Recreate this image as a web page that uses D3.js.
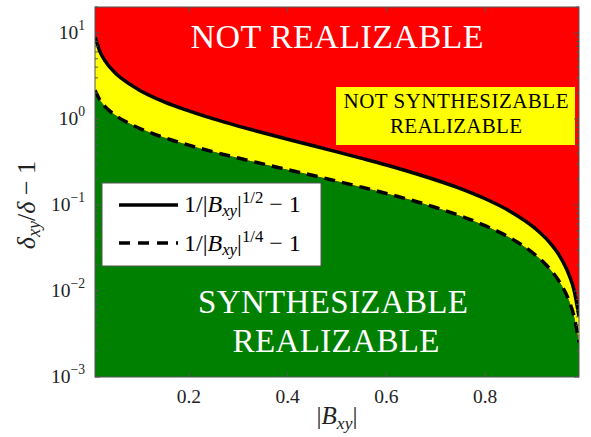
<!DOCTYPE html>
<html>
<head>
<meta charset="utf-8">
<script src="https://cdn.jsdelivr.net/npm/d3@7"></script>
<style>
  body { margin: 0; background: #fff; }
</style>
</head>
<body>
<svg id="chart" width="591" height="437"></svg>
<script>
// values
const bxy    = [0.01, 0.02, 0.03, 0.05, 0.07, 0.1, 0.15, 0.2, 0.25, 0.3, 0.35, 0.4, 0.45, 0.5,
                0.55, 0.6, 0.65, 0.7, 0.75, 0.8, 0.85, 0.9, 0.93, 0.95, 0.97, 0.98, 0.99];
const solid  = [9, 6.07, 4.77, 3.47, 2.78, 2.16, 1.58, 1.24, 1.0, 0.826, 0.69, 0.581, 0.491, 0.414,
                0.348, 0.291, 0.24, 0.195, 0.155, 0.118, 0.0847, 0.0541, 0.037, 0.026, 0.0153, 0.0102, 0.00504];
const dashed = [2.16, 1.66, 1.40, 1.115, 0.944, 0.778, 0.607, 0.495, 0.414, 0.351, 0.30, 0.257, 0.221, 0.189,
                0.161, 0.136, 0.114, 0.0933, 0.0746, 0.0574, 0.0415, 0.0267, 0.0183, 0.0129, 0.00765, 0.00506, 0.00252];
const xTicks = [0.2, 0.4, 0.6, 0.8];
const yTicks = [1e-3, 1e-2, 1e-1, 1, 10];
const yExp   = ["\u22123", "\u22122", "\u22121", "0", "1"];

const FONT = "Liberation Serif";
const svg = d3.select("#chart");
const L = 95, R = 579, T = 7, B = 377;

const x = d3.scaleLinear().domain([0.01, 0.99]).range([L, R]);
const y = d3.scaleLog().domain([1e-3, 20]).range([B, T]);

svg.append("clipPath").attr("id", "clip")
  .append("rect").attr("x", L).attr("y", T).attr("width", R - L).attr("height", B - T);

const plot = svg.append("g").attr("clip-path", "url(#clip)");

// regions
plot.append("rect").attr("x", L).attr("y", T).attr("width", R - L).attr("height", B - T).attr("fill", "#ff0000");

const pts = bxy.map((b, i) => ({ b: b, s: solid[i], d: dashed[i] }));
const curve = d3.curveMonotoneX;

plot.append("path").datum(pts)
  .attr("fill", "#ffff00")
  .attr("d", d3.area().curve(curve).x(d => x(d.b)).y0(d => y(d.d)).y1(d => y(d.s)));

// green under dashed curve
plot.append("path").datum(pts)
  .attr("fill", "#008000")
  .attr("d", d3.area().curve(curve).x(d => x(d.b)).y0(B).y1(d => y(d.d)));

plot.append("path").datum(pts)
  .attr("fill", "none").attr("stroke", "#000").attr("stroke-width", 3.5)
  .attr("d", d3.line().curve(curve).x(d => x(d.b)).y(d => y(d.s)));

plot.append("path").datum(pts)
  .attr("fill", "none").attr("stroke", "#000").attr("stroke-width", 3.5)
  .attr("stroke-dasharray", "11,7")
  .attr("d", d3.line().curve(curve).x(d => x(d.b)).y(d => y(d.d)));

// helper for small math-like labels
function mathText(sel, parts, size) {
  let cur = 0;
  parts.forEach(p => {
    const off = p[2] || 0;
    sel.append("tspan")
      .attr("dy", off - cur)
      .attr("font-style", p[1] ? "italic" : "normal")
      .attr("font-size", size * (p[3] || 1))
      .text(p[0]);
    cur = off;
  });
  return sel;
}

// region labels
svg.append("text").attr("x", 337).attr("y", 48).attr("text-anchor", "middle")
  .attr("fill", "#fff").attr("font-size", 34).attr("textLength", 293)
  .text("NOT REALIZABLE");
svg.append("text").attr("x", 333).attr("y", 313).attr("text-anchor", "middle")
  .attr("fill", "#fff").attr("font-size", 33).attr("textLength", 270)
  .text("SYNTHESIZABLE");
svg.append("text").attr("x", 336).attr("y", 352).attr("text-anchor", "middle")
  .attr("fill", "#fff").attr("font-size", 33).attr("textLength", 207)
  .text("REALIZABLE");

svg.append("rect").attr("x", 336).attr("y", 87).attr("width", 239).attr("height", 58).attr("fill", "#ffff00");
svg.append("text").attr("x", 456).attr("y", 108).attr("text-anchor", "middle")
  .attr("fill", "#000").attr("font-size", 21).attr("textLength", 225)
  .text("NOT SYNTHESIZABLE");
svg.append("text").attr("x", 456).attr("y", 133).attr("text-anchor", "middle")
  .attr("fill", "#000").attr("font-size", 21).attr("textLength", 132)
  .text("REALIZABLE");

// legend
svg.append("rect").attr("x", 102).attr("y", 183).attr("width", 219).attr("height", 83)
  .attr("fill", "#fff").attr("stroke", "#555").attr("stroke-width", 1);
svg.append("line").attr("x1", 119).attr("x2", 178).attr("y1", 205).attr("y2", 205)
  .attr("stroke", "#000").attr("stroke-width", 3.5);
svg.append("line").attr("x1", 119).attr("x2", 178).attr("y1", 243).attr("y2", 243)
  .attr("stroke", "#000").attr("stroke-width", 3.5).attr("stroke-dasharray", "11,8");
mathText(svg.append("text").attr("x", 184).attr("y", 212),
  [["1/|", 0], ["B", 1], ["xy", 1, 4, 0.7], ["|", 0, 0], ["1/2", 0, -9, 0.7], [" \u2212 1", 0, 0]], 24);
mathText(svg.append("text").attr("x", 184).attr("y", 251),
  [["1/|", 0], ["B", 1], ["xy", 1, 4, 0.7], ["|", 0, 0], ["1/4", 0, -9, 0.7], [" \u2212 1", 0, 0]], 24);

// frame and ticks
const frame = svg.append("g").attr("stroke", "#555").attr("stroke-width", 1);
frame.append("rect").attr("x", L).attr("y", T).attr("width", R - L).attr("height", B - T).attr("fill", "none");

xTicks.forEach(t => {
  frame.append("line").attr("x1", x(t)).attr("x2", x(t)).attr("y1", B).attr("y2", B - 5);
  frame.append("line").attr("x1", x(t)).attr("x2", x(t)).attr("y1", T).attr("y2", T + 5);
  svg.append("text").attr("x", x(t)).attr("y", 403).attr("text-anchor", "middle")
    .attr("font-size", 19.5).attr("fill", "#222").text(d3.format(".1f")(t));
});

yTicks.forEach((t, i) => {
  frame.append("line").attr("x1", L).attr("x2", L + 5).attr("y1", y(t)).attr("y2", y(t));
  frame.append("line").attr("x1", R).attr("x2", R - 5).attr("y1", y(t)).attr("y2", y(t));
  for (let m = 2; m <= 9; m++) {
    const v = t * m;
    if (v > 20) break;
    frame.append("line").attr("x1", L).attr("x2", L + 3).attr("y1", y(v)).attr("y2", y(v));
    frame.append("line").attr("x1", R).attr("x2", R - 3).attr("y1", y(v)).attr("y2", y(v));
  }
  mathText(svg.append("text").attr("x", 85).attr("y", y(t) + 6).attr("text-anchor", "end").attr("fill", "#222"),
    [["10", 0], [yExp[i], 0, -9, 0.7]], 19.5);
});

// axis labels
mathText(svg.append("text").attr("x", 337).attr("y", 424).attr("text-anchor", "middle").attr("fill", "#222"),
  [["|", 0], ["B", 1], ["xy", 1, 5, 0.7], ["|", 0, 0]], 25);
mathText(svg.append("text").attr("transform", "translate(35,205) rotate(-90)").attr("text-anchor", "middle")
    .attr("fill", "#222"),
  [["\u03b4", 1], ["xy", 1, 5, 0.7], ["/", 0, 0], ["\u03b4", 1], [" \u2212 1", 0]], 26);

// serif font on every text and tspan
svg.selectAll("text, tspan").attr("font-family", FONT);
</script>
</body>
</html>
